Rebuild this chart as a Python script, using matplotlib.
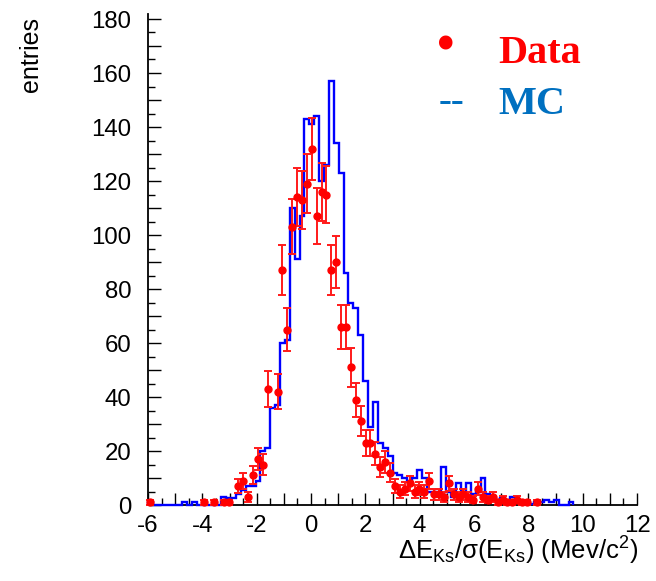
import numpy as np
import matplotlib
matplotlib.use("Agg")
import matplotlib.pyplot as plt
from matplotlib.ticker import MultipleLocator, FuncFormatter

plt.rcParams['font.family'] = ['Liberation Sans', 'DejaVu Sans']
plt.rcParams['mathtext.fontset'] = 'custom'
plt.rcParams['mathtext.rm'] = 'Liberation Sans'
plt.rcParams['mathtext.it'] = 'Liberation Sans:italic'
plt.rcParams['axes.unicode_minus'] = False

# ---------------- data ----------------
x_min, x_max, n_bins_full = -6.0, 12.0, 100
bin_width = (x_max - x_min) / n_bins_full

# MC histogram contents (bins of 0.18 starting at -6)
mc_values = [
    1, 0, 0, 0, 0, 0, 0, 1, 0, 1,          # 0-9
    0, 0, 0, 0, 0, 3, 2.5, 2.5, 4, 5.5,    # 10-19
    7, 7, 9, 20, 21, 36, 37, 60, 61, 110,  # 20-29
    91, 107, 143, 141, 144, 120, 126, 157, 134, 123,  # 30-39
    86, 75, 73, 63, 46, 29, 38, 23, 21, 18,          # 40-49
    12, 11, 10, 9, 10, 13, 10, 5, 5, 5,              # 50-59
    14, 5, 3, 8, 5, 8, 4, 5, 10, 4,                  # 60-69
    2.5, 2, 2.5, 1.2, 3, 1.2, 1, 1, 0.5, 1,          # 70-79
    1, 2, 1, 2, 0, 0, 1,                             # 80-86
]

# Data histogram contents (same binning); 0 = not drawn
data_values = [
    1, 0, 0, 0, 0, 0, 0, 0, 0, 0,          # 0-9
    0, 1, 0, 1, 0, 1, 1, 0, 7, 9,          # 10-19
    3, 11, 17, 15, 43, 0, 42, 87, 65, 103, # 20-29
    114, 113, 119, 132, 107, 116, 115, 87, 90, 66,   # 30-39
    66, 51, 39, 31, 23, 23, 19, 14, 16, 12,          # 40-49
    7, 5, 6, 8, 5, 6, 5, 9, 4, 4,                    # 50-59
    3, 8, 4, 3, 4, 3, 2, 6, 3, 2,                    # 60-69
    3, 1, 2, 1, 1, 2, 1, 1, 0, 1,                    # 70-79
]

x_ticks = [-6, -4, -2, 0, 2, 4, 6, 8, 10, 12]
y_ticks = [0, 20, 40, 60, 80, 100, 120, 140, 160, 180]

# ---------------- figure ----------------
W, H = 656, 581
fig = plt.figure(figsize=(W / 100, H / 100), dpi=100)
ax = fig.add_axes([148 / W, 1 - 505 / H, (637 - 148) / W, (505 - 13.6) / H])

mc = np.array(mc_values, dtype=float)
mc_edges = x_min + bin_width * np.arange(len(mc) + 1)
ax.stairs(mc, mc_edges, color='#0000ff', lw=1.7, zorder=3, clip_on=False)

d = np.array(data_values, dtype=float)
d_centers = x_min + bin_width * (np.arange(len(d)) + 0.5)
mask = d > 0
ax.errorbar(d_centers[mask], d[mask], yerr=np.sqrt(d[mask]), fmt='o',
            color='#ff0000', ecolor='#ff1a1a', markersize=5.0, elinewidth=1.4,
            capsize=3.2, capthick=1.4, zorder=4, clip_on=False)

ax.set_xlim(x_min, x_max)
ax.set_ylim(0, 182)

ax.spines['top'].set_visible(False)
ax.spines['right'].set_visible(False)
ax.spines['left'].set_linewidth(1.3)
ax.spines['bottom'].set_linewidth(1.3)

ax.xaxis.set_major_locator(MultipleLocator(1))
ax.xaxis.set_minor_locator(MultipleLocator(0.5))
ax.yaxis.set_major_locator(MultipleLocator(10))
ax.yaxis.set_minor_locator(MultipleLocator(5))

def xfmt(v, pos):
    iv = int(round(v))
    return str(iv) if iv in x_ticks and abs(v - iv) < 1e-6 else ''

def yfmt(v, pos):
    iv = int(round(v))
    return str(iv) if iv in y_ticks and abs(v - iv) < 1e-6 else ''

ax.xaxis.set_major_formatter(FuncFormatter(xfmt))
ax.yaxis.set_major_formatter(FuncFormatter(yfmt))

ax.tick_params(axis='both', which='major', direction='in', length=9, width=1,
               labelsize=17.3, colors='black')
ax.tick_params(axis='both', which='minor', direction='in', length=5, width=1)
ax.tick_params(axis='x', which='major', pad=7)
ax.tick_params(axis='y', which='major', pad=12)

# axis titles
fig.text(638 / W, 1 - 560 / H,
         'ΔE$_{\\rm Ks}$/σ(E$_{\\rm Ks}$) (Mev/c$^{\\rm 2}$)',
         ha='right', va='baseline', fontsize=18.5)
fig.text(31 / W, 1 - 17 / H, 'entries', rotation=90, ha='center', va='top',
         fontsize=18)

# legend-like annotations
serif = ['Liberation Serif', 'DejaVu Serif']
fig.text(446 / W, 1 - 47 / H, '•', color='#ff0000', fontsize=36,
         ha='center', va='center', family=serif, fontweight='bold')
fig.text(498 / W, 1 - 63 / H, 'Data', color='#ff0000', fontsize=29,
         ha='left', va='baseline', family=serif, fontweight='bold')
fig.text(452 / W, 1 - 103 / H, '--', color='#0070c0', fontsize=28,
         ha='center', va='center', family=serif, fontweight='bold')
fig.text(498 / W, 1 - 114 / H, 'MC', color='#0070c0', fontsize=29,
         ha='left', va='baseline', family=serif, fontweight='bold')

fig.savefig('out.png', dpi=100, facecolor='white')
